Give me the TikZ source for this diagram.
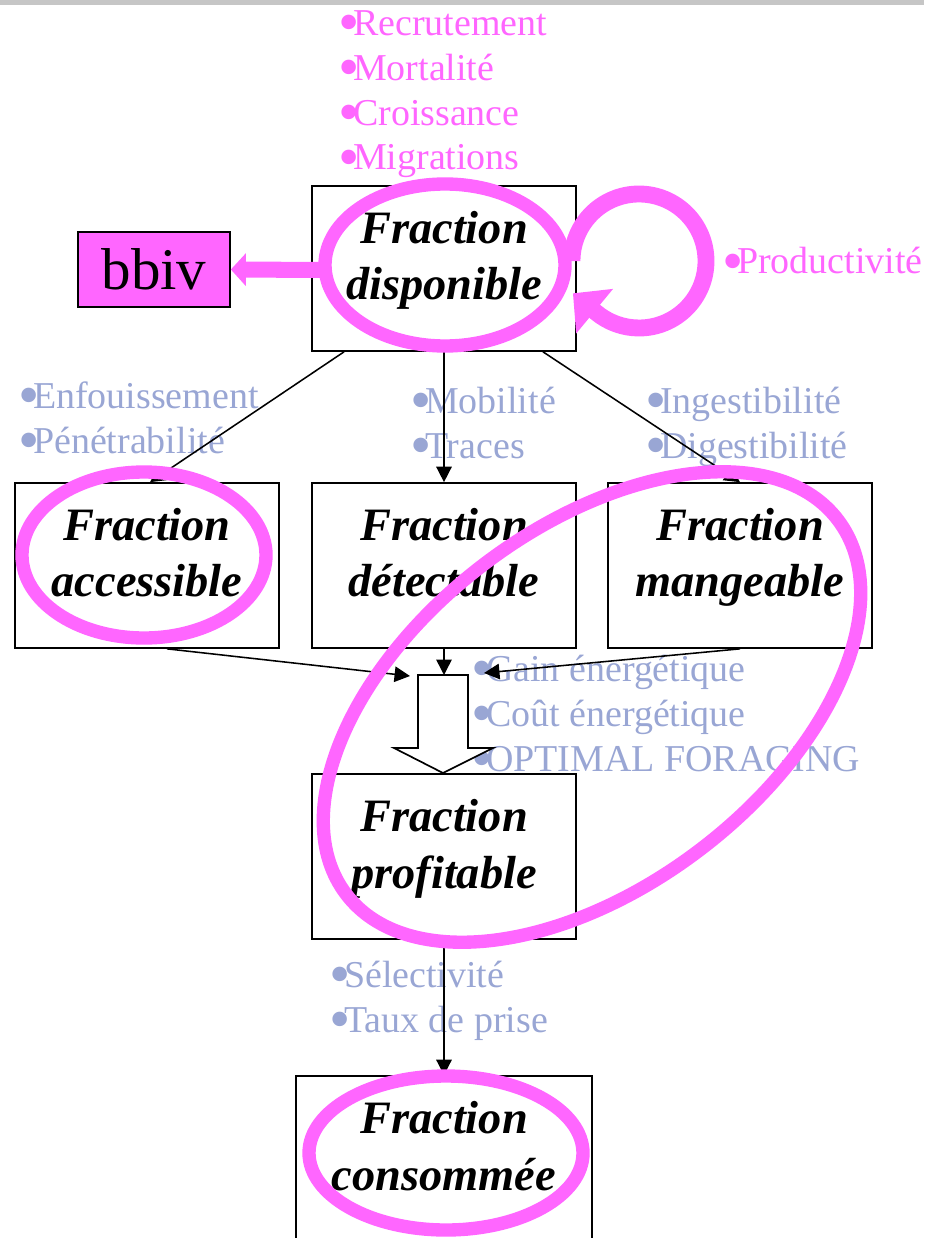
\documentclass[tikz,border=0pt]{standalone}
\usepackage{fontspec}
\usepackage{graphicx}
\setmainfont{Liberation Serif}
\usetikzlibrary{arrows.meta}
\definecolor{rose}{RGB}{255,102,255}
\definecolor{bleu}{RGB}{153,166,212}
\newcommand\puce{\makebox[0.39em][l]{\raisebox{-0.19em}[0pt][0pt]{\scalebox{1.6}{•}}}}

\begin{document}
\begin{tikzpicture}[x=0.25mm,y=-0.25mm,
  fraction/.style={draw,line width=1.2pt,minimum width=66mm,minimum height=41.25mm,inner sep=0pt,align=center,
    font=\fontsize{33}{40.5}\selectfont\bfseries\itshape,text height=64.5pt,text depth=19.7pt},
  facteur/.style={anchor=base west,inner sep=0pt,align=left,font=\fontsize{27}{32}\selectfont},
  fleche/.style={line width=1.1pt,-{Triangle[length=11pt,width=11pt]}},
  cercle/.style={draw=rose,line width=9.5pt},
  grosse/.style={draw=rose,line width=11.4pt,-{Triangle[length=10.7pt,width=22.8pt]}}]
\clip (0,0) rectangle (924,1238);
\fill[gray!45] (0,0) rectangle (924,5);

\node[fraction] (dispo) at (444,268.5) {Fraction\\disponible};
\node[fraction] (access) at (147,565.5) {Fraction\\accessible};
\node[fraction] (detect) at (444,565.5) {Fraction\\détectable};
\node[fraction] (mange) at (740,565.5) {Fraction\\mangeable};
\node[fraction] (profit) at (444,856.5) {Fraction\\profitable};
\node[fraction,minimum width=74mm] (conso) at (444,1158.5) {Fraction\\consommée};
\node[draw,line width=1.2pt,fill=rose,minimum width=38mm,minimum height=18.75mm,inner sep=0pt,
  font=\fontsize{42}{50}\selectfont] (bbiv) at (154,269.5) {bbiv};

\node[facteur,text=bleu] (enfou) at (18,453) {\puce Enfouissement\\\puce Pénétrabilité};
\node[facteur,text=bleu] (mobil) at (410,458) {\puce Mobilité\\\puce Traces};
\node[facteur,text=bleu] (inges) at (645,458) {\puce Ingestibilité\\\puce Digestibilité};
\node[facteur,text=bleu] (gain) at (471,771) {\puce Gain énergétique\\\puce Coût énergétique\\\puce OPTIMAL FORAGING};
\node[facteur,text=bleu] (select) at (329,1032) {\puce Sélectivité\\\puce Taux de prise};

\coordinate (inL) at (410,676);
\coordinate (inC) at (444,675);
\coordinate (inR) at (484,673);
\draw[fleche] ([xshift=-25mm]dispo.south) -- ([xshift=0.75mm]access.north);
\draw[fleche] (dispo.south) -- (detect.north);
\draw[fleche] ([xshift=24.75mm]dispo.south) -- (mange.north);
\draw[fleche] ([xshift=5mm]access.south) -- (inL);
\draw[fleche] (detect.south) -- (inC);
\draw[fleche] (mange.south) -- (inR);
\draw[fleche] (profit.south) -- (conso.north);
\draw[line width=1.2pt,fill=white] (418,675) -- (468,675) -- (468,748) -- (493,748) -- (443,773)
  -- (394,748) -- (418,748) -- cycle;

\draw[cercle] (445,265) ellipse [x radius=120,y radius=81];
\draw[cercle] (144,555) ellipse [x radius=122,y radius=83];
\draw[cercle,rotate around={37.3:(592,707)}] (592,707) ellipse [x radius=309,y radius=179];
\draw[cercle] (446,1153) ellipse [x radius=137,y radius=77];
\draw[rose,line width=12pt,-{Triangle[length=20pt,width=40pt]}] (639,261) ++(180:67)
  arc[start angle=180,end angle=490,radius=67] -- ++(-23,-19);
\coordinate (ringL) at (326,270);
\draw[grosse] (ringL) -- (bbiv.east);

\node[facteur,text=rose] (recru) at (338,170) {\puce Recrutement\\\puce Mortalité\\\puce Croissance\\\puce Migrations};
\node[facteur,text=rose] (produ) at (722,274) {\puce Productivité};
\end{tikzpicture}
\end{document}
